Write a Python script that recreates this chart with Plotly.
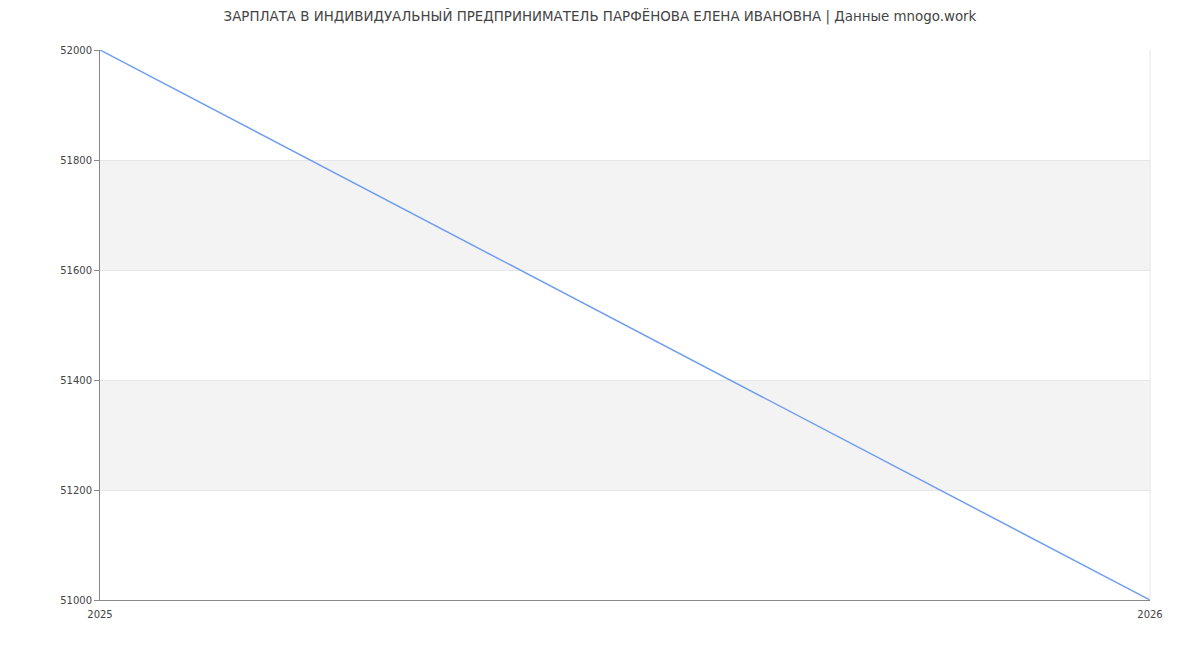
import plotly.graph_objects as go

years = [2025, 2026]
salary = [52000, 51000]
y_ticks = [51000, 51200, 51400, 51600, 51800, 52000]
title = "ЗАРПЛАТА В ИНДИВИДУАЛЬНЫЙ ПРЕДПРИНИМАТЕЛЬ ПАРФЁНОВА ЕЛЕНА ИВАНОВНА | Данные mnogo.work"

fig = go.Figure()
fig.add_trace(go.Scatter(x=years, y=salary, mode="lines",
                         line=dict(color="#6f9ef0", width=1.5),
                         hoverinfo="x+y", showlegend=False))

# alternating grey bands between gridlines
shapes = []
for i in range(1, len(y_ticks) - 1, 2):
    shapes.append(dict(type="rect", xref="paper", yref="y", x0=0, x1=1,
                       y0=y_ticks[i], y1=y_ticks[i + 1],
                       fillcolor="#f3f3f3", line=dict(width=0), layer="below"))
shapes.append(dict(type="line", xref="paper", yref="paper", x0=1, x1=1, y0=0, y1=1,
                   line=dict(color="#e6e6e6", width=1)))

# page body has an 8px margin, so margins are shifted to compensate
fig.update_layout(
    title=dict(text=title, x=0.4933, y=0.987, xanchor="center", yanchor="middle",
               font=dict(size=13.4, color="#444")),
    font=dict(family="DejaVu Sans", size=10, color="#444"),
    width=1200, height=650,
    margin=dict(l=92, r=58, t=42, b=58),
    paper_bgcolor="white", plot_bgcolor="white",
    shapes=shapes,
    xaxis=dict(range=[years[0], years[-1]], tickvals=years, ticktext=[str(v) for v in years],
               showgrid=False, showline=True, linecolor="#888", linewidth=1,
               zeroline=False, ticks="outside", ticklen=5, tickcolor="rgba(0,0,0,0)",
               fixedrange=True),
    yaxis=dict(range=[y_ticks[0], y_ticks[-1]], tickvals=y_ticks,
               ticktext=[str(v) for v in y_ticks],
               showgrid=True, gridcolor="#e6e6e6", gridwidth=1,
               showline=True, linecolor="#888", linewidth=1,
               ticks="outside", ticklen=5, tickcolor="#888",
               zeroline=False, fixedrange=True),
)

fig.write_html("out.html")
